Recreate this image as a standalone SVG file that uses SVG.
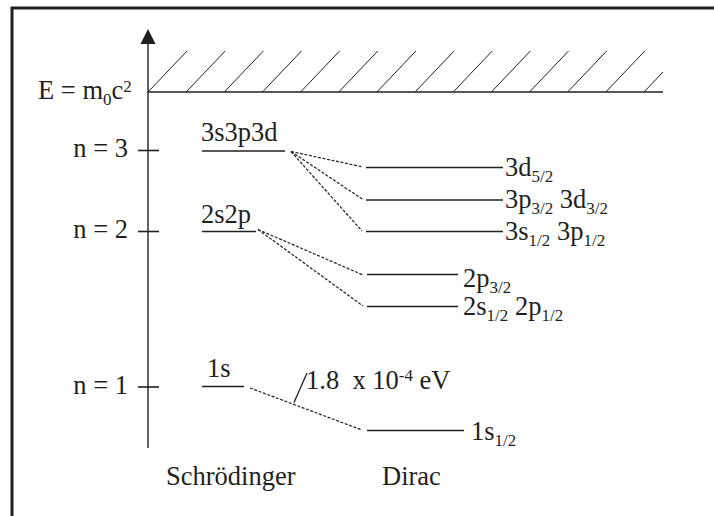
<svg xmlns="http://www.w3.org/2000/svg" width="714" height="516" viewBox="0 0 714 516">
<style>
text{font-family:"Liberation Serif","Times New Roman",serif;font-size:26.5px;fill:#231f20}
.sub{font-size:17px}
.lvl{stroke:#231f20;stroke-width:1.6;fill:none}
.dash{stroke:#231f20;stroke-width:1.2;stroke-dasharray:3 1.6;fill:none}
.hatch{stroke:#231f20;stroke-width:1;fill:none}
</style>
<rect x="0" y="0" width="714" height="516" fill="#fff"/>
<path d="M12 520 V8 H720" stroke="#231f20" stroke-width="3" fill="none"/>
<g id="axis">
<line x1="148" y1="40" x2="148" y2="448" stroke="#231f20" stroke-width="1.4"/>
<polygon points="148,29 140.5,44 155.5,44" fill="#231f20"/>
<line x1="138" y1="150.5" x2="159" y2="150.5" class="lvl"/>
<line x1="138" y1="231.5" x2="159" y2="231.5" class="lvl"/>
<line x1="138" y1="387" x2="159" y2="387" class="lvl"/>
<text x="128" y="157" text-anchor="end">n = 3</text>
<text x="128" y="238" text-anchor="end">n = 2</text>
<text x="128" y="394" text-anchor="end">n = 1</text>
</g>
<g id="continuum">
<line x1="148" y1="92" x2="663" y2="92" class="lvl"/>
<path class="hatch" d="M148 92 l39 -41 M186.15 92 l39 -41 M224.3 92 l39 -41 M262.45 92 l39 -41 M300.6 92 l39 -41 M338.75 92 l39 -41 M376.9 92 l39 -41 M415.05 92 l39 -41 M453.2 92 l39 -41 M491.35 92 l39 -41 M529.5 92 l39 -41 M567.65 92 l39 -41 M605.8 92 l39 -41 M643.95 92 L663 72"/>
<text x="38" y="99">E = m<tspan class="sub" dy="6">0</tspan><tspan dy="-6">c</tspan><tspan class="sub" dy="-7">2</tspan></text>
</g>
<g id="s-n3">
<line x1="202" y1="151" x2="285" y2="151" class="lvl"/>
<text x="201" y="141">3s3p3d</text>
</g>
<g id="s-n2">
<line x1="202" y1="231.5" x2="256" y2="231.5" class="lvl"/>
<text x="201" y="223">2s2p</text>
</g>
<g id="s-n1">
<line x1="202" y1="386.5" x2="244" y2="386.5" class="lvl"/>
<text x="207" y="377">1s</text>
</g>
<g id="d-3d52">
<line x1="366" y1="167.5" x2="503" y2="167.5" class="lvl"/>
<text x="505" y="176">3d<tspan class="sub" dy="6">5/2</tspan></text>
</g>
<g id="d-3p32">
<line x1="366" y1="200" x2="503" y2="200" class="lvl"/>
<text x="505" y="208">3p<tspan class="sub" dy="6">3/2</tspan><tspan dy="-6"> 3d</tspan><tspan class="sub" dy="6">3/2</tspan></text>
</g>
<g id="d-3s12">
<line x1="366" y1="231.5" x2="503" y2="231.5" class="lvl"/>
<text x="505" y="240">3s<tspan class="sub" dy="6">1/2</tspan><tspan dy="-6"> 3p</tspan><tspan class="sub" dy="6">1/2</tspan></text>
</g>
<g id="d-2p32">
<line x1="367" y1="274.5" x2="458" y2="274.5" class="lvl"/>
<text x="463" y="287">2p<tspan class="sub" dy="6">3/2</tspan></text>
</g>
<g id="d-2s12">
<line x1="367" y1="306.5" x2="458" y2="306.5" class="lvl"/>
<text x="463" y="315">2s<tspan class="sub" dy="6">1/2</tspan><tspan dy="-6"> 2p</tspan><tspan class="sub" dy="6">1/2</tspan></text>
</g>
<g id="d-1s12">
<line x1="367" y1="430.5" x2="464" y2="430.5" class="lvl"/>
<text x="471" y="440">1s<tspan class="sub" dy="6">1/2</tspan></text>
</g>
<g id="connectors">
<line class="dash" x1="291" y1="151.5" x2="363" y2="167"/>
<line class="dash" x1="291" y1="151.5" x2="363" y2="199.5"/>
<line class="dash" x1="291" y1="151.5" x2="362" y2="231"/>
<line class="dash" x1="258" y1="229.5" x2="363" y2="275"/>
<line class="dash" x1="258" y1="229.5" x2="363" y2="306"/>
<line class="dash" x1="250" y1="388" x2="362" y2="430"/>
<line x1="294" y1="402.5" x2="307" y2="373" stroke="#231f20" stroke-width="1.3"/>
</g>
<g id="annotation">
<text x="306" y="389" style="white-space:pre">1.8  x 10<tspan class="sub" dy="-8">-4</tspan><tspan dy="8"> eV</tspan></text>
</g>
<g id="labels">
<text x="166" y="485">Schrödinger</text>
<text x="382" y="485">Dirac</text>
</g>
</svg>
